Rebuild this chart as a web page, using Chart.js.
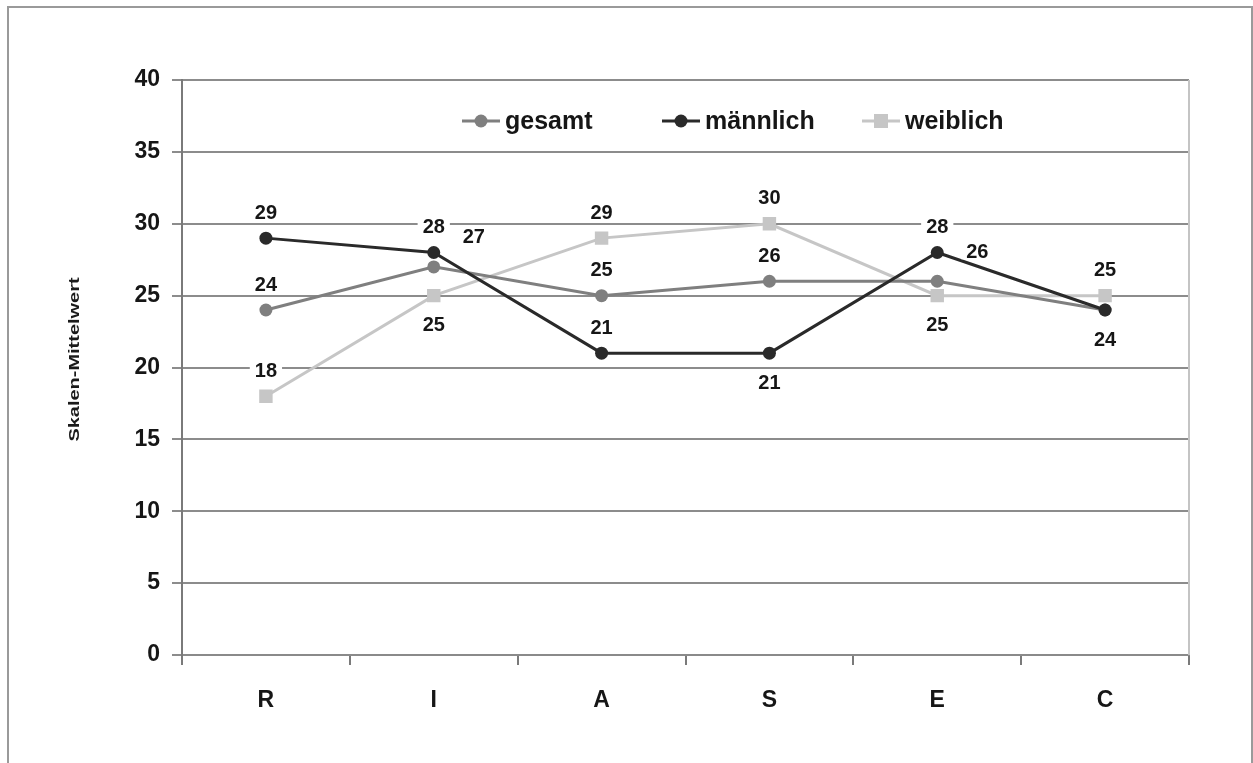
<!DOCTYPE html>
<html>
<head>
<meta charset="utf-8">
<script src="https://cdn.jsdelivr.net/npm/chart.js@4.4.1/dist/chart.umd.min.js"></script>
<style>
  html, body { margin: 0; padding: 0; background: #fff; }
  #wrap { width: 1253px; height: 763px; }
</style>
</head>
<body>
<div id="wrap"><canvas id="chart" width="1253" height="763"></canvas></div>
<script>
// RIASEC scale means
const categories = ['R', 'I', 'A', 'S', 'E', 'C'];
const gesamt = [24, 27, 25, 26, 26, 24];
const maennlich = [29, 28, 21, 21, 28, 24];
const weiblich = [18, 25, 29, 30, 25, 25];
const yTicks = [0, 5, 10, 15, 20, 25, 30, 35, 40];

// where each value label goes relative to its point
const gesamtLabelPos = ['above', 'right', 'above', 'above', 'right', null];
const maennlichLabelPos = ['above', 'above', 'above', 'below', 'above', 'below'];
const weiblichLabelPos = ['above', 'below', 'above', 'above', 'below', 'above'];

const FONT = '"Liberation Sans", Arial, Helvetica, sans-serif';
const labelOffsets = { above: [0, -26], below: [0, 29], right: [40, -30] };

const frame = {
  id: 'frame',
  beforeDraw(chart) {
    const ctx = chart.ctx;
    ctx.save();
    ctx.fillStyle = '#fff';
    ctx.fillRect(0, 0, chart.width, chart.height);
    ctx.strokeStyle = '#9a9a9a';
    ctx.lineWidth = 2;
    ctx.strokeRect(8, 7, 1244, 820);
    ctx.restore();
  },
  afterDraw(chart) {
    const { ctx, chartArea: a } = chart;
    ctx.save();
    // light right edge of the plot
    ctx.strokeStyle = '#c4c4c4';
    ctx.lineWidth = 2;
    ctx.beginPath();
    ctx.moveTo(a.right, a.top);
    ctx.lineTo(a.right, a.bottom);
    ctx.stroke();
    // y axis title
    ctx.translate(75, (a.top + a.bottom) / 2 - 8);
    ctx.rotate(-Math.PI / 2);
    ctx.scale(1.33, 1);
    ctx.font = 'bold 15px ' + FONT;
    ctx.fillStyle = '#1a1a1a';
    ctx.textAlign = 'center';
    ctx.textBaseline = 'middle';
    ctx.fillText('Skalen-Mittelwert', 0, 0);
    ctx.restore();
  }
};

const valueLabels = {
  id: 'valueLabels',
  afterDatasetsDraw(chart) {
    const ctx = chart.ctx;
    ctx.save();
    ctx.font = 'bold 20px ' + FONT;
    ctx.textAlign = 'center';
    ctx.textBaseline = 'middle';
    chart.data.datasets.forEach((ds, i) => {
      chart.getDatasetMeta(i).data.forEach((pt, j) => {
        const pos = ds.labelPos[j];
        if (!pos) return;
        const [dx, dy] = labelOffsets[pos];
        const x = pt.x + dx, y = pt.y + dy;
        const text = String(ds.data[j]);
        const w = ctx.measureText(text).width;
        ctx.fillStyle = '#fff';
        ctx.fillRect(x - w / 2 - 5, y - 8, w + 10, 16);
        ctx.fillStyle = '#161616';
        ctx.fillText(text, x, y + 1);
      });
    });
    ctx.restore();
  }
};

const innerLegend = {
  id: 'innerLegend',
  afterDraw(chart) {
    const { ctx, chartArea: a } = chart;
    const y = a.top + 41;
    ctx.save();
    ctx.font = 'bold 25px ' + FONT;
    ctx.textBaseline = 'middle';
    chart.data.datasets.forEach((ds, i) => {
      const x0 = a.left + 280 + i * 200;
      ctx.strokeStyle = ds.borderColor;
      ctx.lineWidth = 3;
      ctx.beginPath();
      ctx.moveTo(x0, y);
      ctx.lineTo(x0 + 38, y);
      ctx.stroke();
      ctx.fillStyle = ds.pointBackgroundColor;
      if (ds.pointStyle === 'rect') {
        ctx.fillRect(x0 + 12, y - 7, 14, 14);
      } else {
        ctx.beginPath();
        ctx.arc(x0 + 19, y, 6.5, 0, Math.PI * 2);
        ctx.fill();
      }
      ctx.fillStyle = '#161616';
      ctx.fillText(ds.label, x0 + 43, y + 1);
    });
    ctx.restore();
  }
};

function series(label, data, color, style, labelPos, order) {
  return {
    label, data, labelPos, order,
    borderColor: color,
    backgroundColor: color,
    pointBackgroundColor: color,
    pointBorderColor: color,
    borderWidth: 3,
    pointStyle: style,
    pointRadius: style === 'rect' ? 9.5 : 6.5,
    pointBorderWidth: 0,
    tension: 0
  };
}

new Chart(document.getElementById('chart'), {
  type: 'line',
  data: {
    labels: categories,
    datasets: [
      series('gesamt', gesamt, '#7f7f7f', 'circle', gesamtLabelPos, 1),
      series('männlich', maennlich, '#2a2a2a', 'circle', maennlichLabelPos, 0),
      series('weiblich', weiblich, '#c6c6c6', 'rect', weiblichLabelPos, 2)
    ]
  },
  options: {
    responsive: false,
    animation: false,
    devicePixelRatio: 1,
    layout: { padding: { left: 0, right: 64, top: 80, bottom: 0 } },
    plugins: { legend: { display: false }, tooltip: { enabled: false } },
    scales: {
      x: {
        offset: true,
        afterFit(scale) { scale.height = 108; },
        grid: { offset: true, drawOnChartArea: false, drawTicks: true, tickLength: 10, color: '#7a7a7a', lineWidth: 2 },
        border: { color: '#8a8a8a', width: 2 },
        ticks: { color: '#161616', padding: 22, font: { family: FONT, size: 23, weight: 'bold' } }
      },
      y: {
        min: 0,
        max: 40,
        afterFit(scale) { scale.width = 182; },
        afterBuildTicks(scale) { scale.ticks = yTicks.map(v => ({ value: v })); },
        grid: { color: '#8c8c8c', lineWidth: 2, tickLength: 10 },
        border: { color: '#7a7a7a', width: 2 },
        ticks: { color: '#161616', padding: 12, font: { family: FONT, size: 23, weight: 'bold' } }
      }
    }
  },
  plugins: [frame, valueLabels, innerLegend]
});
</script>
</body>
</html>
